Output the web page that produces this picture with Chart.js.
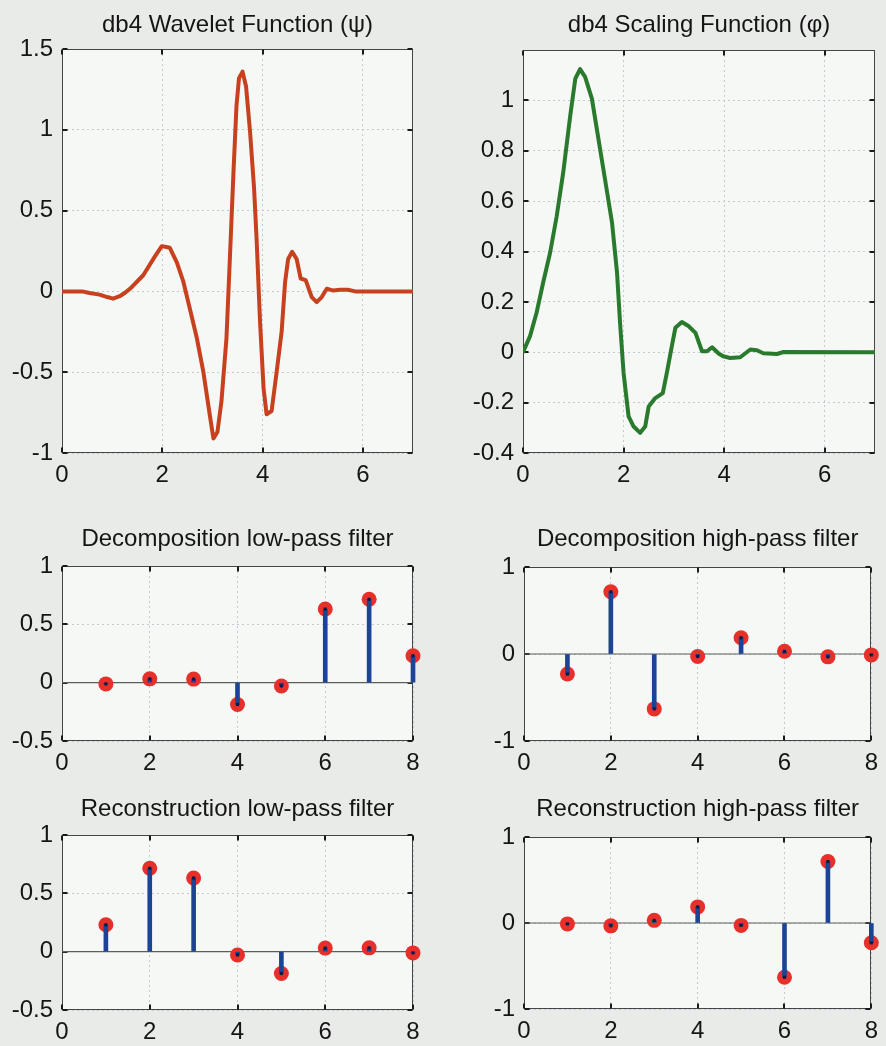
<!DOCTYPE html>
<html>
<head>
<meta charset="utf-8">
<script src="https://cdn.jsdelivr.net/npm/chart.js@4/dist/chart.umd.min.js"></script>
<style>
html,body{margin:0;padding:0;background:#e8ebe8;}
body{width:886px;height:1046px;position:relative;overflow:hidden;}
canvas{position:absolute;}
</style>
</head>
<body>
<canvas id="c1" width="443" height="500" style="left:0;top:0"></canvas>
<canvas id="c2" width="443" height="500" style="left:443px;top:0"></canvas>
<canvas id="c3" width="443" height="270" style="left:0;top:500px"></canvas>
<canvas id="c4" width="443" height="270" style="left:443px;top:500px"></canvas>
<canvas id="c5" width="443" height="276" style="left:0;top:770px"></canvas>
<canvas id="c6" width="443" height="276" style="left:443px;top:770px"></canvas>
<script>
// ---------------- DATA ----------------
const WAVELET_X = [0,0.2,0.4,0.55,0.75,0.9,1.02,1.15,1.25,1.36,1.62,1.86,1.99,2.08,2.15,2.29,2.42,2.55,2.69,2.82,2.95,3.02,3.10,3.18,3.28,3.35,3.42,3.48,3.53,3.60,3.67,3.75,3.83,3.88,3.95,4.02,4.08,4.18,4.28,4.38,4.45,4.51,4.59,4.68,4.76,4.86,4.98,5.08,5.18,5.28,5.41,5.55,5.7,5.85,6.0,7.0];
const WAVELET_Y = [0,0,0,-0.01,-0.02,-0.035,-0.045,-0.03,-0.01,0.017,0.10,0.22,0.28,0.275,0.27,0.18,0.06,-0.107,-0.29,-0.50,-0.77,-0.91,-0.87,-0.68,-0.29,0.22,0.74,1.15,1.32,1.36,1.27,0.99,0.64,0.33,-0.19,-0.60,-0.76,-0.74,-0.50,-0.25,0.06,0.20,0.245,0.20,0.08,0.07,-0.035,-0.066,-0.035,0.017,0.005,0.01,0.01,0,0,0];

const SCALING_X = [0,0.14,0.27,0.40,0.54,0.67,0.80,0.94,1.04,1.135,1.235,1.37,1.50,1.63,1.77,1.87,1.93,2.00,2.10,2.20,2.33,2.43,2.50,2.63,2.78,2.86,2.96,3.03,3.16,3.29,3.43,3.56,3.66,3.76,3.89,3.98,4.12,4.32,4.52,4.65,4.78,5.05,5.18,7.0];
const SCALING_Y = [0,0.064,0.157,0.276,0.396,0.54,0.714,0.94,1.086,1.124,1.093,1.007,0.847,0.688,0.515,0.316,0.117,-0.082,-0.255,-0.295,-0.32,-0.295,-0.215,-0.182,-0.162,-0.082,0.024,0.097,0.12,0.104,0.077,0.004,0.004,0.02,-0.005,-0.016,-0.023,-0.02,0.011,0.008,-0.004,-0.007,0.001,0];

const FILTER_N = [1,2,3,4,5,6,7,8];
const LO_D = [-0.0106, 0.0329, 0.0308, -0.1870, -0.0280, 0.6309, 0.7148, 0.2304];
const HI_D = [-0.2304, 0.7148, -0.6309, -0.0280, 0.1870, 0.0308, -0.0329, -0.0106];
const LO_R = [0.2304, 0.7148, 0.6309, -0.0280, -0.1870, 0.0308, 0.0329, -0.0106];
const HI_R = [-0.0106, -0.0329, 0.0308, 0.1870, -0.0280, -0.6309, 0.7148, -0.2304];

const BASELINE_X = [0, 8];

const X_TICKS_FUNC = [0,2,4,6];
const X_TICKS_FILT = [0,2,4,6,8];
const Y_TICKS_PSI = [-1,-0.5,0,0.5,1,1.5];
const Y_TICKS_PHI = [-0.4,-0.2,0,0.2,0.4,0.6,0.8,1];
const Y_TICKS_LOW = [-0.5,0,0.5,1];
const Y_TICKS_HIGH = [-1,0,1];

// ---------------- STYLE / BUILD ----------------
const FONT = "'Liberation Sans', Arial, Helvetica, sans-serif";

const framePlugin = {
  id: 'frame',
  beforeDraw(chart) {
    const {ctx, chartArea: a} = chart;
    ctx.save();
    ctx.fillStyle = '#f6f8f6';
    ctx.fillRect(a.left, a.top, a.right - a.left, a.bottom - a.top);
    ctx.restore();
  },
  beforeDatasetsDraw(chart) {
    const {ctx, chartArea: a, scales: {x, y}} = chart;
    ctx.save();
    ctx.strokeStyle = '#454545';
    ctx.lineWidth = 1;
    const l = Math.round(a.left) + 0.5, t = Math.round(a.top) + 0.5;
    const r = Math.round(a.right) - 0.5, b = Math.round(a.bottom) - 0.5;
    ctx.strokeRect(l, t, r - l, b - t);
    ctx.strokeStyle = '#1a1a1a';
    ctx.lineWidth = 2;
    const L = 5;
    ctx.beginPath();
    x.ticks.forEach(tk => {
      const px = Math.round(x.getPixelForValue(tk.value));
      ctx.moveTo(px, b); ctx.lineTo(px, b - L);
      ctx.moveTo(px, t); ctx.lineTo(px, t + L);
    });
    y.ticks.forEach(tk => {
      const py = Math.round(y.getPixelForValue(tk.value));
      ctx.moveTo(l, py); ctx.lineTo(l + L, py);
      ctx.moveTo(r, py); ctx.lineTo(r - L, py);
    });
    ctx.stroke();
    ctx.restore();
  }
};

function axis(min, max, ticks, fit, isX) {
  return {
    type: 'linear', min, max, offset: false,
    afterBuildTicks: s => { s.ticks = ticks.map(v => ({value: v})); },
    afterFit: fit,
    grid: {color: '#c2cad4', lineWidth: 1, drawTicks: false, offset: false},
    border: {display: false, dash: [2, 3]},
    ticks: {
      font: {family: FONT, size: 24, lineHeight: 1.2},
      color: '#151515',
      padding: isX ? 8 : 9,
      autoSkip: false, maxRotation: 0, minRotation: 0,
      callback: v => String(Math.round(v * 100) / 100)
    }
  };
}

function curve(xs, ys, color) {
  return [{
    type: 'line',
    data: xs.map((x, i) => ({x, y: ys[i]})),
    borderColor: color, borderWidth: 4, pointRadius: 0, tension: 0,
    borderJoinStyle: 'round', borderCapStyle: 'round'
  }];
}

function stems(vals) {
  const pts = FILTER_N.map((x, i) => ({x, y: vals[i]}));
  return [
    {type: 'scatter', data: pts, pointStyle: 'rect', pointRadius: 2.2, backgroundColor: '#101a40', borderWidth: 0, order: 0, clip: false},
    {type: 'bar', data: pts, backgroundColor: '#1d4494', barThickness: 4, order: 1, clip: false},
    {type: 'scatter', data: pts, pointRadius: 7.5, backgroundColor: '#e8302a', borderWidth: 0, order: 2, clip: false},
    {type: 'line', data: BASELINE_X.map(x => ({x, y: 0})), borderColor: '#5a5f5a', borderWidth: 1.2, pointRadius: 0, order: 3}
  ];
}

const panels = [
  {id: 'c1', title: 'db4 Wavelet Function (ψ)', W: 443, H: 500, area: {l: 62, r: 413, t: 49, b: 453}, tpad: [12, 11],
   x: [0, 7, X_TICKS_FUNC], y: [-1, 1.5, Y_TICKS_PSI], ds: curve(WAVELET_X, WAVELET_Y, '#c8411f')},
  {id: 'c2', title: 'db4 Scaling Function (φ)', W: 443, H: 500, area: {l: 80, r: 432, t: 50, b: 453}, tpad: [12, 12],
   x: [0, 7, X_TICKS_FUNC], y: [-0.4, 1.2, Y_TICKS_PHI], ds: curve(SCALING_X, SCALING_Y, '#2a7a2e')},
  {id: 'c3', title: 'Decomposition low-pass filter', W: 443, H: 270, area: {l: 62, r: 413, t: 66, b: 241}, tpad: [26, 14],
   x: [0, 8, X_TICKS_FILT], y: [-0.5, 1, Y_TICKS_LOW], ds: stems(LO_D)},
  {id: 'c4', title: 'Decomposition high-pass filter', W: 443, H: 270, area: {l: 81, r: 434, t: 67, b: 241}, tpad: [26, 15],
   x: [0, 8, X_TICKS_FILT], y: [-1, 1, Y_TICKS_HIGH], ds: stems(HI_D)},
  {id: 'c5', title: 'Reconstruction low-pass filter', W: 443, H: 276, area: {l: 62, r: 413, t: 65, b: 240}, tpad: [26, 13],
   x: [0, 8, X_TICKS_FILT], y: [-0.5, 1, Y_TICKS_LOW], ds: stems(LO_R)},
  {id: 'c6', title: 'Reconstruction high-pass filter', W: 443, H: 276, area: {l: 81, r: 434, t: 67, b: 239}, tpad: [26, 15],
   x: [0, 8, X_TICKS_FILT], y: [-1, 1, Y_TICKS_HIGH], ds: stems(HI_R)}
];

panels.forEach(p => {
  new Chart(document.getElementById(p.id), {
    type: 'scatter',
    data: {datasets: p.ds},
    plugins: [framePlugin],
    options: {
      responsive: false, animation: false, events: [], devicePixelRatio: 1,
      layout: {padding: {left: 0, top: 0, right: p.W - p.area.r, bottom: 0}},
      plugins: {
        legend: {display: false},
        tooltip: {enabled: false},
        title: {
          display: true, text: p.title, fullSize: false, color: '#151515',
          font: {family: FONT, size: 24, weight: 'normal', lineHeight: '26px'},
          padding: {top: p.tpad[0], bottom: p.tpad[1]}
        }
      },
      scales: {
        x: axis(p.x[0], p.x[1], p.x[2], s => { s.height = p.H - p.area.b; }, true),
        y: axis(p.y[0], p.y[1], p.y[2], s => { s.width = p.area.l; }, false)
      }
    }
  });
});
</script>
</body>
</html>
